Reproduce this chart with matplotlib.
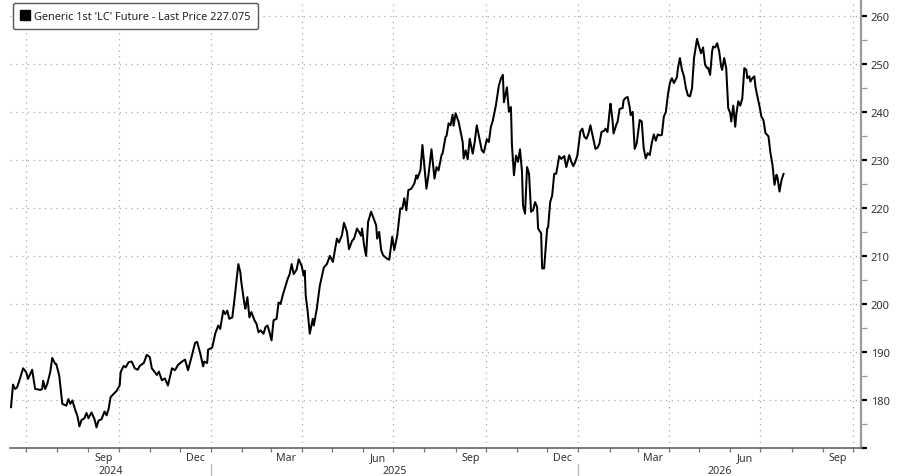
import matplotlib
matplotlib.use("Agg")
import matplotlib.pyplot as plt
import matplotlib.dates as mdates
import matplotlib.transforms as mtransforms
from matplotlib.patches import Patch
from matplotlib.lines import Line2D
from matplotlib.ticker import MultipleLocator, NullFormatter, FixedLocator
import pandas as pd

plt.rcParams['font.family'] = ['Noto Sans', 'DejaVu Sans']

series_name = "Generic 1st 'LC' Future - Last Price"

dates_2024 = [
    "2024-06-16", "2024-06-18", "2024-06-20", "2024-06-22", "2024-06-25", "2024-06-28", "2024-07-01", "2024-07-03", "2024-07-07", "2024-07-10",
    "2024-07-15", "2024-07-17", "2024-07-18", "2024-07-20", "2024-07-22", "2024-07-25", "2024-07-27", "2024-07-30", "2024-07-31", "2024-08-03",
    "2024-08-06", "2024-08-10", "2024-08-12", "2024-08-14", "2024-08-16", "2024-08-19", "2024-08-21", "2024-08-23", "2024-08-25", "2024-08-28",
    "2024-08-30", "2024-09-01", "2024-09-04", "2024-09-07", "2024-09-09", "2024-09-11", "2024-09-14", "2024-09-17", "2024-09-19", "2024-09-21",
    "2024-09-23", "2024-09-26", "2024-09-29", "2024-10-02", "2024-10-03", "2024-10-06", "2024-10-08", "2024-10-11", "2024-10-14", "2024-10-17",
    "2024-10-20", "2024-10-22", "2024-10-26", "2024-10-29", "2024-11-01", "2024-11-03", "2024-11-08", "2024-11-10", "2024-11-13", "2024-11-16",
    "2024-11-19", "2024-11-23", "2024-11-26", "2024-11-29", "2024-12-03", "2024-12-06", "2024-12-09", "2024-12-13", "2024-12-16", "2024-12-18",
    "2024-12-21", "2024-12-24", "2024-12-25", "2024-12-28", "2024-12-29",
]
prices_2024 = [
    178.5, 183.2, 182.3, 182.6, 184.5, 186.6, 185.8, 184.4, 186.3, 182.3,
    182.1, 182.3, 184.0, 182.3, 183.3, 185.8, 188.75, 187.5, 187.5, 185.0,
    179.2, 178.8, 180.2, 179.2, 179.9, 177.8, 176.7, 174.5, 175.8, 176.2,
    177.3, 176.2, 177.4, 176.0, 174.3, 175.7, 176.0, 177.6, 176.8, 178.1,
    180.6, 181.25, 181.9, 183.0, 185.8, 187.1, 186.8, 187.9, 188.0, 186.6,
    186.3, 187.1, 187.7, 189.4, 188.9, 186.6, 185.2, 185.9, 184.1, 184.5,
    183.0, 186.6, 186.2, 187.3, 188.0, 188.4, 186.2, 189.4, 191.9, 192.1,
    189.8, 187.0, 188.0, 187.7, 190.5,
]

dates_2025 = [
    "2025-01-02", "2025-01-05", "2025-01-08", "2025-01-10", "2025-01-13", "2025-01-15", "2025-01-17", "2025-01-19", "2025-01-22", "2025-01-24",
    "2025-01-26", "2025-01-28", "2025-01-30", "2025-01-31", "2025-02-03", "2025-02-04", "2025-02-06", "2025-02-08", "2025-02-10", "2025-02-13",
    "2025-02-15", "2025-02-17", "2025-02-19", "2025-02-22", "2025-02-24", "2025-02-26", "2025-02-28", "2025-03-02", "2025-03-04", "2025-03-07",
    "2025-03-09", "2025-03-11", "2025-03-13", "2025-03-15", "2025-03-18", "2025-03-20", "2025-03-22", "2025-03-24", "2025-03-27", "2025-03-29",
    "2025-04-01", "2025-04-03", "2025-04-04", "2025-04-05", "2025-04-07", "2025-04-09", "2025-04-12", "2025-04-13", "2025-04-16", "2025-04-19",
    "2025-04-23", "2025-04-26", "2025-04-29", "2025-05-02", "2025-05-06", "2025-05-08", "2025-05-11", "2025-05-13", "2025-05-16", "2025-05-18",
    "2025-05-21", "2025-05-23", "2025-05-26", "2025-05-28", "2025-05-30", "2025-05-31", "2025-06-02", "2025-06-04", "2025-06-06", "2025-06-09",
    "2025-06-11", "2025-06-14", "2025-06-15", "2025-06-17", "2025-06-19", "2025-06-21", "2025-06-25", "2025-06-27", "2025-06-30", "2025-07-02",
    "2025-07-05", "2025-07-08", "2025-07-10", "2025-07-12", "2025-07-14", "2025-07-16", "2025-07-19", "2025-07-22", "2025-07-24", "2025-07-25",
    "2025-07-28", "2025-07-30", "2025-08-03", "2025-08-05", "2025-08-08", "2025-08-11", "2025-08-13", "2025-08-15", "2025-08-18", "2025-08-19",
    "2025-08-22", "2025-08-23", "2025-08-25", "2025-08-27", "2025-08-29", "2025-08-30", "2025-09-01", "2025-09-04", "2025-09-06", "2025-09-08",
    "2025-09-09", "2025-09-11", "2025-09-13", "2025-09-15", "2025-09-18", "2025-09-20", "2025-09-22", "2025-09-24", "2025-09-27", "2025-09-29",
    "2025-10-02", "2025-10-04", "2025-10-06", "2025-10-08", "2025-10-11", "2025-10-14", "2025-10-16", "2025-10-18", "2025-10-19", "2025-10-22",
    "2025-10-24", "2025-10-26", "2025-10-27", "2025-10-29", "2025-10-31", "2025-11-02", "2025-11-04", "2025-11-06", "2025-11-07", "2025-11-09",
    "2025-11-11", "2025-11-13", "2025-11-15", "2025-11-17", "2025-11-19", "2025-11-21", "2025-11-22", "2025-11-25", "2025-11-26", "2025-11-28",
    "2025-12-01", "2025-12-02", "2025-12-04", "2025-12-06", "2025-12-08", "2025-12-10", "2025-12-13", "2025-12-15", "2025-12-18", "2025-12-20",
    "2025-12-23", "2025-12-25", "2025-12-27", "2025-12-29", "2025-12-31",
]
prices_2025 = [
    190.9, 193.8, 195.5, 194.8, 198.6, 197.9, 198.6, 196.9, 197.2, 200.7,
    204.5, 208.3, 206.6, 204.5, 200.0, 199.0, 201.4, 197.2, 198.3, 196.6,
    195.9, 194.1, 194.5, 193.8, 195.2, 195.5, 194.1, 192.4, 196.6, 196.9,
    200.3, 200.0, 201.7, 203.1, 205.2, 206.2, 208.3, 206.2, 207.2, 209.3,
    207.9, 205.9, 206.9, 201.7, 198.3, 193.8, 196.9, 195.5, 199.0, 203.8,
    207.6, 208.3, 210.0, 208.75, 213.6, 212.8, 214.3, 216.9, 215.0, 211.4,
    213.1, 213.6, 215.7, 215.0, 214.2, 215.7, 212.2, 210.0, 217.1, 219.2,
    218.1, 216.4, 213.6, 215.0, 211.2, 210.1, 209.4, 209.2, 214.0, 211.2,
    214.3, 219.9, 219.8, 222.0, 219.5, 223.7, 224.0, 225.1, 226.8, 226.1,
    227.8, 233.1, 224.0, 226.8, 232.2, 226.1, 228.5, 227.8, 231.0, 231.3,
    234.8, 235.0, 237.6, 237.2, 239.4, 237.1, 239.7, 237.9, 235.8, 233.75,
    230.3, 232.0, 230.1, 234.4, 231.3, 233.75, 237.2, 235.1, 232.0, 231.5,
    234.3, 233.7, 236.8, 238.2, 241.3, 245.5, 246.9, 247.7, 242.0, 245.1,
    240.0, 241.0, 233.0, 226.8, 230.9, 229.6, 232.2, 227.5, 220.5, 218.8,
    228.5, 227.1, 219.2, 219.5, 221.2, 220.2, 215.7, 214.7, 207.4, 207.4,
    215.7, 216.0, 221.2, 222.6, 227.1, 227.1, 230.8, 230.2, 230.8, 228.5,
    231.0, 229.6, 228.7, 229.6, 230.9,
]

dates_2026 = [
    "2026-01-03", "2026-01-05", "2026-01-07", "2026-01-09", "2026-01-11", "2026-01-13", "2026-01-15", "2026-01-18", "2026-01-20", "2026-01-22",
    "2026-01-24", "2026-01-27", "2026-01-28", "2026-01-30", "2026-02-01", "2026-02-02", "2026-02-04", "2026-02-05", "2026-02-08", "2026-02-09",
    "2026-02-11", "2026-02-14", "2026-02-15", "2026-02-17", "2026-02-19", "2026-02-21", "2026-02-22", "2026-02-24", "2026-02-26", "2026-02-28",
    "2026-03-03", "2026-03-05", "2026-03-07", "2026-03-09", "2026-03-11", "2026-03-13", "2026-03-15", "2026-03-17", "2026-03-19", "2026-03-21",
    "2026-03-23", "2026-03-25", "2026-03-27", "2026-03-29", "2026-03-31", "2026-04-02", "2026-04-04", "2026-04-06", "2026-04-09", "2026-04-10",
    "2026-04-12", "2026-04-14", "2026-04-16", "2026-04-18", "2026-04-20", "2026-04-22", "2026-04-24", "2026-04-26", "2026-04-29", "2026-05-01",
    "2026-05-03", "2026-05-05", "2026-05-07", "2026-05-09", "2026-05-10", "2026-05-12", "2026-05-14", "2026-05-15", "2026-05-17", "2026-05-19",
    "2026-05-21", "2026-05-23", "2026-05-24", "2026-05-26", "2026-05-28", "2026-05-30", "2026-06-01", "2026-06-02", "2026-06-04", "2026-06-06",
    "2026-06-07", "2026-06-09", "2026-06-11", "2026-06-13", "2026-06-15", "2026-06-17", "2026-06-18", "2026-06-20", "2026-06-21", "2026-06-23",
    "2026-06-25", "2026-06-26", "2026-06-28", "2026-06-30", "2026-07-02", "2026-07-04", "2026-07-06", "2026-07-09", "2026-07-11", "2026-07-13",
    "2026-07-15", "2026-07-17", "2026-07-18", "2026-07-20", "2026-07-22", "2026-07-24",
]
prices_2026 = [
    235.9, 236.5, 234.8, 234.4, 235.4, 237.2, 235.2, 232.3, 232.5, 233.4,
    235.8, 236.1, 236.5, 235.8, 240.0, 241.7, 238.2, 235.5, 237.5, 237.9,
    240.6, 240.8, 242.4, 242.9, 243.1, 241.0, 239.3, 240.0, 232.3, 233.4,
    238.3, 238.0, 232.4, 230.3, 231.4, 231.0, 233.5, 235.3, 234.0, 235.3,
    235.1, 235.2, 239.0, 240.0, 243.5, 246.0, 247.0, 246.0, 247.2, 249.1,
    251.2, 248.75, 247.4, 244.9, 243.4, 243.2, 244.9, 251.2, 255.2, 253.6,
    252.2, 253.4, 249.8, 249.1, 249.2, 247.7, 252.6, 253.6, 253.4, 254.3,
    252.6, 249.4, 248.75, 251.2, 249.1, 240.8, 239.7, 238.0, 241.3, 236.9,
    239.4, 242.2, 241.3, 242.8, 249.1, 248.75, 247.0, 247.4, 246.3, 247.0,
    247.4, 245.3, 243.2, 241.3, 239.0, 238.3, 235.6, 234.9, 231.4, 229.0,
    224.8, 226.9, 226.3, 223.4, 225.8, 227.075,
]

y_ticks = [170, 180, 190, 200, 210, 220, 230, 240, 250, 260]
y_tick_labels = ["", "180", "190", "200", "210", "220", "230", "240", "250", "260"]
month_label_dates = ["2024-09-16", "2024-12-16", "2025-03-16", "2025-06-16", "2025-09-16",
                     "2025-12-16", "2026-03-16", "2026-06-16", "2026-09-16"]
year_labels = ["2024", "2025", "2026"]

dates = pd.to_datetime(dates_2024 + dates_2025 + dates_2026)
prices = prices_2024 + prices_2025 + prices_2026

x_start = pd.Timestamp("2024-06-15")
x_end = pd.Timestamp("2026-10-09")

fig = plt.figure(figsize=(9, 4.77), dpi=100)
ax = fig.add_axes([10 / 900, 28 / 477, 851 / 900, 449 / 477])

grid_kw = dict(color="#a8a8a8", linewidth=0.9, linestyle=(0, (1, 3.6)))

ax.plot(dates, prices, color="black", linewidth=1.45, solid_joinstyle="round", zorder=3)

ax.set_xlim(x_start, x_end)
ax.set_ylim(170, 263.5)

# y axis on the right
ax.yaxis.tick_right()
ax.set_yticks(y_ticks)
ax.set_yticklabels(y_tick_labels)
ax.yaxis.set_minor_locator(MultipleLocator(5))
ax.tick_params(axis="y", which="major", direction="out", length=4, width=1.6,
               color="black", labelsize=8, labelcolor="#333333", pad=3)
ax.tick_params(axis="y", which="minor", direction="out", length=4, width=0.9, color="#999999")
ax.yaxis.grid(True, which="major", **grid_kw)

# vertical grid at quarter starts
for q in pd.date_range("2024-07-01", "2026-10-01", freq="QS"):
    ax.axvline(q, zorder=1, **grid_kw)

# x axis: month tick marks, quarter-end month labels
ax.xaxis.set_major_locator(mdates.MonthLocator())
ax.xaxis.set_major_formatter(NullFormatter())
ax.xaxis.set_minor_locator(FixedLocator(mdates.date2num(pd.to_datetime(month_label_dates))))
ax.xaxis.set_minor_formatter(mdates.DateFormatter("%b"))
ax.tick_params(axis="x", which="major", direction="out", length=3, width=0.9, color="#777777")
ax.tick_params(axis="x", which="minor", length=0, labelsize=7.7, labelcolor="#333333", pad=3)

for side in ["left", "top"]:
    ax.spines[side].set_visible(False)
ax.spines["right"].set_color("#9a9a9a")
ax.spines["right"].set_linewidth(1.6)
ax.spines["bottom"].set_color("#555555")
ax.spines["bottom"].set_linewidth(1.1)

# year labels and separators
trans = mtransforms.blended_transform_factory(ax.transData, ax.transAxes)
year_bounds = [x_start, pd.Timestamp("2025-01-01"), pd.Timestamp("2026-01-01"), x_end]
for i, label in enumerate(year_labels):
    a = mdates.date2num(year_bounds[i])
    b = mdates.date2num(year_bounds[i + 1])
    ax.text((a + b) / 2, -0.05, label, transform=trans, ha="center", va="center",
            fontsize=7.7, color="#333333")
for b in year_bounds[1:3]:
    ax.add_line(Line2D([b, b], [-0.036, -0.065], transform=trans, color="#bbbbbb",
                       linewidth=1.0, clip_on=False))

# legend
leg = ax.legend(handles=[Patch(facecolor="black", edgecolor="black")],
                labels=[f"{series_name} {prices[-1]:.3f}"],
                loc="upper left", bbox_to_anchor=(3 / 851, 1 - 4 / 449),
                borderaxespad=0, handlelength=0.9, handleheight=0.9,
                handletextpad=0.35, borderpad=0.68, fancybox=True, framealpha=1,
                edgecolor="#555555", fontsize=7.9)
leg.get_frame().set_linewidth(1.0)
leg.set_zorder(5)
for t in leg.get_texts():
    t.set_color("#222222")

fig.savefig("out.png", dpi=100, facecolor="white")
